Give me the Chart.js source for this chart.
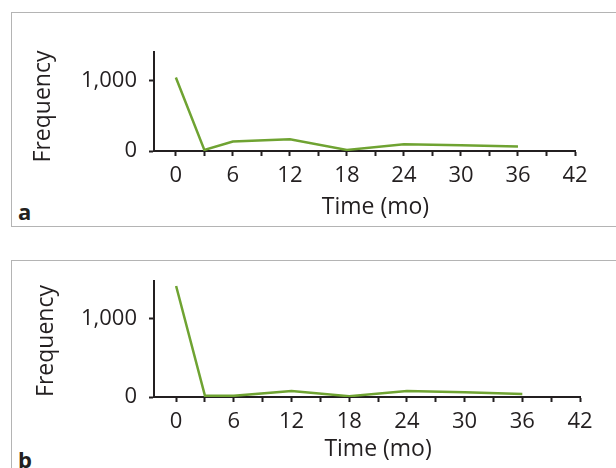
<!DOCTYPE html>
<html>
<head>
<meta charset="utf-8">
<script src="https://cdn.jsdelivr.net/npm/chart.js@4.4.1/dist/chart.umd.min.js"></script>
<style>
  body { margin: 0; background: #fff; width: 616px; height: 468px; overflow: hidden; position: relative; font-family: "Open Sans", sans-serif; }
  .box { position: absolute; left: 11px; width: 640px; border: 1px solid #b4b4b4; box-sizing: border-box; }
  .letter { position: absolute; left: 18px; font-size: 22px; font-weight: bold; color: #231f20; line-height: 1; }
  canvas { position: absolute; left: 0; }
</style>
</head>
<body>
<div class="box" style="top:12px;height:215px;"></div>
<div class="box" style="top:260px;height:240px;"></div>
<div class="letter" style="top:200px;">a</div>
<div class="letter" style="top:448px;">b</div>
<canvas id="chartA" width="616" height="240" style="top:0;"></canvas>
<canvas id="chartB" width="616" height="228" style="top:240px;"></canvas>
<script>
// months after start
const months = [0, 3, 6, 12, 18, 24, 30, 36];
const freqA = [1040, 15, 135, 165, 15, 95, 80, 65];
const freqB = [1416, 15, 15, 77, 10, 77, 60, 38];

const xTickValues = [0, 3, 6, 9, 12, 15, 18, 21, 24, 27, 30, 33, 36, 39, 42];
const yTickValues = [0, 1000];

const ink = "#231f20";
const green = "#6fa332";
const fontFamily = "'Open Sans', sans-serif";

const axisTitles = {
  id: "axisTitles",
  afterDraw(chart, args, opts) {
    let ctx = chart.ctx;
    let area = chart.chartArea;
    ctx.save();
    ctx.fillStyle = ink;
    ctx.font = "23px " + fontFamily;
    ctx.textAlign = "center";
    ctx.textBaseline = "middle";
    let cx = chart.scales.x.getPixelForValue(21);
    ctx.fillText("Time (mo)", cx, area.bottom + opts.xTitleOffset);
    ctx.translate(opts.yTitleX, (area.top + area.bottom) / 2 + opts.yTitleShift);
    ctx.rotate(-Math.PI / 2);
    ctx.fillText("Frequency", 0, 0);
    ctx.restore();
  },
};

function makePanel(id, values, yMax, xMin, padding, titles) {
  return new Chart(document.getElementById(id), {
    type: "line",
    data: {
      datasets: [
        {
          data: months.map((m, i) => ({ x: m, y: values[i] })),
          borderColor: green,
          borderWidth: 2.5,
          pointRadius: 0,
          tension: 0,
        },
      ],
    },
    options: {
      responsive: false,
      animation: false,
      layout: { padding: padding },
      plugins: {
        legend: { display: false },
        tooltip: { enabled: false },
        axisTitles: titles,
      },
      scales: {
        x: {
          type: "linear",
          min: xMin,
          max: 42,
          afterBuildTicks: (scale) => {
            scale.ticks = xTickValues.map((v) => ({ value: v }));
          },
          afterFit: (scale) => {
            scale.height = 60;
          },
          grid: {
            drawOnChartArea: false,
            drawTicks: true,
            tickLength: 5,
            tickWidth: 2,
            tickColor: ink,
          },
          border: { display: true, color: ink, width: 2 },
          ticks: {
            autoSkip: false,
            maxRotation: 0,
            padding: 7,
            color: ink,
            font: { family: fontFamily, size: 22 },
            callback: (v) => (v % 6 === 0 ? String(v) : ""),
          },
        },
        y: {
          min: 0,
          max: yMax,
          afterBuildTicks: (scale) => {
            scale.ticks = yTickValues.map((v) => ({ value: v }));
          },
          afterFit: (scale) => {
            scale.width = 100;
          },
          grid: {
            drawOnChartArea: false,
            drawTicks: true,
            tickLength: 5,
            tickWidth: 2,
            tickColor: ink,
          },
          border: { display: true, color: ink, width: 2 },
          ticks: {
            padding: 12,
            color: ink,
            font: { family: fontFamily, size: 22 },
            callback: (v) => v.toLocaleString("en-US"),
          },
        },
      },
    },
    plugins: [axisTitles],
  });
}

makePanel("chartA", freqA, 1400, -2.3,
  { left: 54, right: 41, top: 52, bottom: 29 },
  { xTitleOffset: 56, yTitleX: 43, yTitleShift: 5 });

makePanel("chartB", freqB, 1480, -2.3,
  { left: 54, right: 36, top: 41, bottom: 11 },
  { xTitleOffset: 52, yTitleX: 46, yTitleShift: 2 });
</script>
</body>
</html>
